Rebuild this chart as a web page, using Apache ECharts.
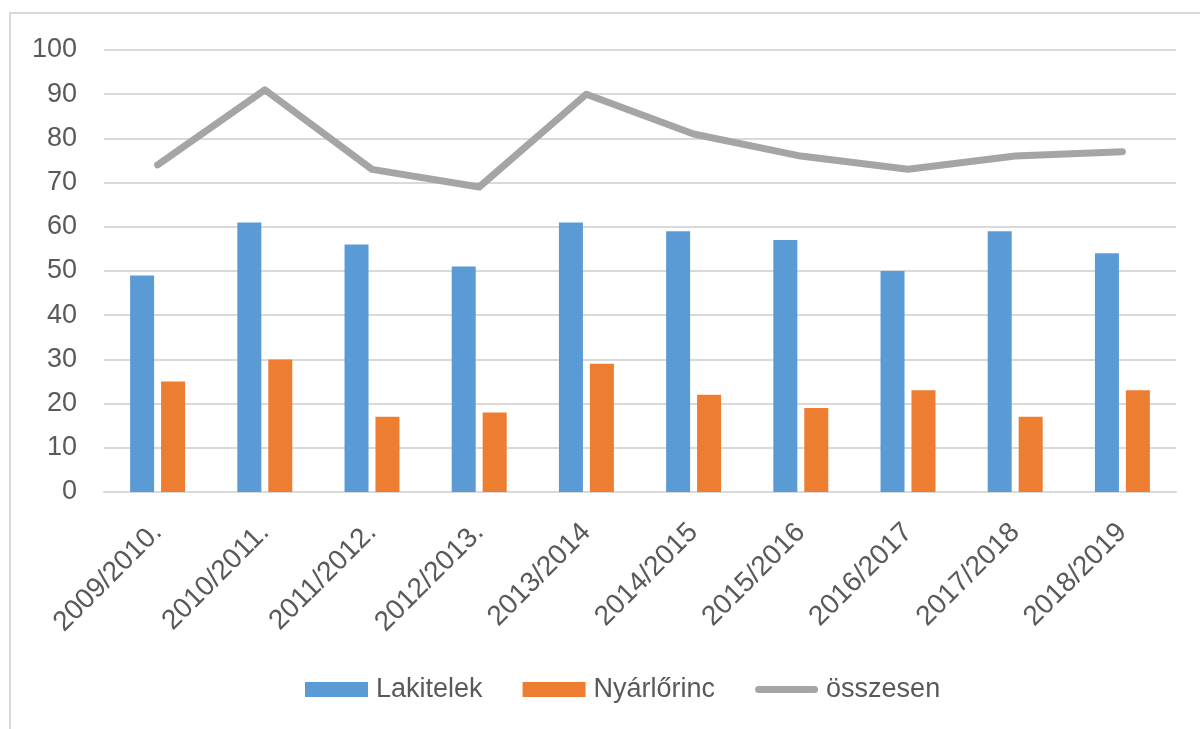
<!DOCTYPE html>
<html>
<head>
<meta charset="utf-8">
<script src="https://cdn.jsdelivr.net/npm/echarts@6/dist/echarts.min.js"></script>
<style>
  html, body { margin: 0; padding: 0; background: #fff; }
  #chart { width: 1200px; height: 729px; }
</style>
</head>
<body>
<div id="chart"></div>
<script>
// tanévek
var years = ['2009/2010.', '2010/2011.', '2011/2012.', '2012/2013.', '2013/2014',
  '2014/2015', '2015/2016', '2016/2017', '2017/2018', '2018/2019'];
var lakitelek = [49, 61, 56, 51, 61, 59, 57, 50, 59, 54];
var nyarlorinc = [25, 30, 17, 18, 29, 22, 19, 23, 17, 23];
var osszesen = [74, 91, 73, 69, 90, 81, 76, 73, 76, 77];

var textColor = '#595959';
var font = '"Liberation Sans", Arial, sans-serif';
// lekerekített vonal ikon a legendához
var lineIcon = 'path://M4,0 L67,0 A4,4 0 0 1 67,8 L4,8 A4,4 0 0 1 4,0 Z';

var myChart = echarts.init(document.getElementById('chart'));
myChart.setOption({
  animation: false,
  color: ['#5B9BD5', '#ED7D31', '#A5A5A5'],
  textStyle: { fontFamily: font },
  graphic: [{
    type: 'rect',
    shape: { x: 10, y: 13, width: 1200, height: 730 },
    style: { fill: 'none', stroke: '#D9D9D9', lineWidth: 2 },
    silent: true
  }],
  grid: {
    left: 104,
    right: 24,
    top: 50,
    bottom: 237
  },
  legend: {
    bottom: 21,
    left: 300,
    itemWidth: 63,
    itemHeight: 15,
    itemGap: 40,
    textStyle: { color: textColor, fontSize: 27, fontFamily: font, padding: [0, 0, 0, 3] },
    data: [
      { name: 'Lakitelek', icon: 'rect' },
      { name: 'Nyárlőrinc', icon: 'rect' },
      { name: 'összesen', icon: lineIcon }
    ]
  },
  xAxis: [{
    type: 'category',
    data: years,
    axisTick: { show: false },
    axisLine: { show: true, lineStyle: { color: '#D9D9D9', width: 2 } },
    axisLabel: {
      interval: 0,
      rotate: 45,
      margin: 36,
      color: textColor,
      fontSize: 28,
      fontFamily: font
    }
  }],
  yAxis: [{
    type: 'value',
    min: 0,
    max: 100,
    interval: 10,
    axisLine: { show: false },
    axisTick: { show: false },
    splitLine: { lineStyle: { color: '#D9D9D9', width: 2 } },
    axisLabel: {
      margin: 27,
      color: textColor,
      fontSize: 27,
      fontFamily: font
    }
  }],
  series: [
    {
      name: 'Lakitelek',
      type: 'bar',
      barWidth: 24,
      barGap: '29%',
      data: lakitelek
    },
    {
      name: 'Nyárlőrinc',
      type: 'bar',
      barWidth: 24,
      data: nyarlorinc
    },
    {
      name: 'összesen',
      type: 'line',
      symbol: 'none',
      data: osszesen,
      lineStyle: { width: 7, cap: 'round', join: 'round', color: '#A5A5A5' }
    }
  ]
});
</script>
</body>
</html>
